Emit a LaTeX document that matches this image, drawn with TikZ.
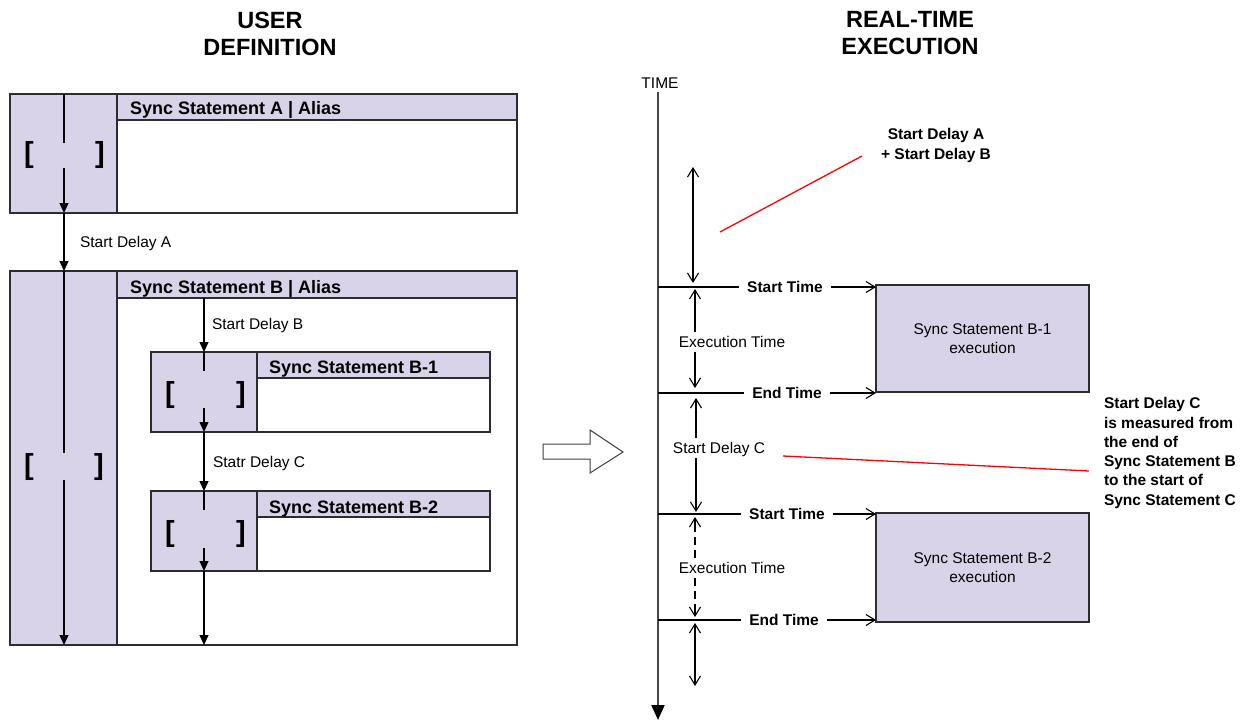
\documentclass[tikz,border=0pt]{standalone}
\usepackage{fontspec}
\setmainfont{Liberation Sans}
\setsansfont{Liberation Sans}
\usetikzlibrary{arrows.meta}
\definecolor{lav}{RGB}{217,211,233}
\definecolor{bord}{RGB}{45,45,45}
\definecolor{tl}{RGB}{70,70,70}
\begin{document}
\begin{tikzpicture}[x=1pt,y=-1pt,
  every node/.style={inner sep=0pt, outer sep=0pt},
  frame/.style={draw=bord, line width=1.5pt, fill=white, anchor=north west},
  colbox/.style={draw=bord, line width=1.5pt, fill=lav, anchor=north west},
  reg/.style={font=\fontsize{15.5}{18.5}\selectfont},
  bld/.style={font=\fontsize{15.5}{19.3}\selectfont\bfseries},
  capht/.style={text height=11.1pt, text depth=0pt},
  hdrtxt/.style={font=\fontsize{18}{21}\selectfont\bfseries, anchor=west, text height=12.9pt, text depth=0pt},
  brk/.style={font=\fontsize{29}{30}\selectfont\bfseries},
  title/.style={font=\fontsize{23.5}{27}\selectfont\bfseries, align=center},
  gapnode/.style={minimum width=1pt},
  ln/.style={line width=1.3pt},
  larr/.style={line width=1.3pt, -{Triangle[length=10pt,width=9pt]}},
  rarr/.style={line width=1.1pt, -{Straight Barb[length=9pt,width=11pt]}},
  tick/.style={line width=1.1pt},
  lbl/.style={bld, capht, inner xsep=8pt},
  mid/.style={reg, capht, fill=white, inner xsep=1pt, inner ysep=4.5pt},
  exec/.style={draw=bord, line width=1.3pt, fill=lav, reg, align=center},
  note/.style={bld, align=left},
  redln/.style={draw=red, line width=1.3pt}
]
\useasboundingbox (0,0) rectangle (1251,721);

% ---------- titles ----------
\node[title] (t1) at (270,33.5) {USER\\DEFINITION};
\node[title] (t2) at (910,33.5) {REAL-TIME\\EXECUTION};

% ---------- Sync Statement A ----------
\node[frame, minimum width=507pt, minimum height=119pt] (Aout) at (10,94) {};
\node[colbox, minimum width=107pt, minimum height=119pt] (Acol) at (10,94) {};
\node[colbox, minimum width=400pt, minimum height=26pt] (Ahdr) at (117,94) {};
\node[hdrtxt] (Atxt) at (130,108) {Sync Statement A | Alias};
\node[brk] (Abl) at (29,155) {[};
\node[brk] (Abr) at (100,155) {]};
\node[gapnode, minimum height=25pt] (Agap) at (64,155.5) {};

% ---------- Sync Statement B ----------
\node[frame, minimum width=507pt, minimum height=374pt] (Bout) at (10,271) {};
\node[colbox, minimum width=107pt, minimum height=374pt] (Bcol) at (10,271) {};
\node[colbox, minimum width=400pt, minimum height=27pt] (Bhdr) at (117,271) {};
\node[hdrtxt] (Btxt) at (130,287) {Sync Statement B | Alias};
\node[brk] (Bbl) at (29,467) {[};
\node[brk] (Bbr) at (99,467) {]};
\node[gapnode, minimum height=27pt] (Bgap) at (64,466.5) {};

% ---------- Sync Statement B-1 ----------
\node[frame, minimum width=339pt, minimum height=80pt] (B1out) at (151,352) {};
\node[colbox, minimum width=106pt, minimum height=80pt] (B1col) at (151,352) {};
\node[colbox, minimum width=233pt, minimum height=26pt] (B1hdr) at (257,352) {};
\node[hdrtxt] (B1txt) at (269,367) {Sync Statement B-1};
\node[brk] (B1bl) at (170,395) {[};
\node[brk] (B1br) at (241,395) {]};
\node[gapnode, minimum height=37pt] (B1gap) at (204,389.5) {};

% ---------- Sync Statement B-2 ----------
\node[frame, minimum width=339pt, minimum height=80pt] (B2out) at (151,491) {};
\node[colbox, minimum width=106pt, minimum height=80pt] (B2col) at (151,491) {};
\node[colbox, minimum width=233pt, minimum height=26pt] (B2hdr) at (257,491) {};
\node[hdrtxt] (B2txt) at (269,507) {Sync Statement B-2};
\node[brk] (B2bl) at (170,534) {[};
\node[brk] (B2br) at (241,534) {]};
\node[gapnode, minimum height=38pt] (B2gap) at (204,529) {};

% ---------- left flow lines ----------
\draw[ln] (Acol.north -| Agap) -- (Agap.north);
\draw[larr] (Agap.south) -- (Acol.south -| Agap);
\draw[larr] (Aout.south -| Agap) -- (Bout.north -| Agap);
\draw[ln] (Bcol.north -| Bgap) -- (Bgap.north);
\draw[larr] (Bgap.south) -- (Bcol.south -| Bgap);
\draw[larr] (Bhdr.south -| B1gap) -- (B1out.north -| B1gap);
\draw[ln] (B1col.north -| B1gap) -- (B1gap.north);
\draw[larr] (B1gap.south) -- (B1col.south -| B1gap);
\draw[larr] (B1out.south -| B1gap) -- (B2out.north -| B1gap);
\draw[ln] (B2col.north -| B2gap) -- (B2gap.north);
\draw[larr] (B2gap.south) -- (B2col.south -| B2gap);
\draw[larr] (B2out.south -| B2gap) -- (Bout.south -| B2gap);

\node[reg, capht, anchor=west] (dA) at (80,242) {Start Delay A};
\node[reg, capht, anchor=west] (dB) at (212,324) {Start Delay B};
\node[reg, capht, anchor=west] (dC) at (213,462) {Statr Delay C};

% ---------- big hollow arrow ----------
\draw[draw=black!75, line width=1pt, fill=white]
  (543,444) -- (590,444) -- (590,430) -- (623,452) -- (590,473) -- (590,459) -- (543,459) -- cycle;

% ---------- time line ----------
\node[reg, capht] (time) at (660,83) {TIME};
\coordinate (tl0) at (658,92);
\coordinate (tl1) at (658,720);
\draw[draw=tl, line width=2pt, -{Triangle[length=15pt,width=13pt,color=black]}] (tl0) -- (tl1);

% execution boxes
\node[exec, minimum width=213pt, minimum height=107pt] (B1x) at (982.5,338.5) {Sync Statement B-1\\execution};
\node[exec, minimum width=213pt, minimum height=109pt] (B2x) at (982.5,567.5) {Sync Statement B-2\\execution};

% ticks and labels
\coordinate (s1) at (658,287);
\coordinate (e1) at (658,393);
\coordinate (s2) at (658,514);
\coordinate (e2) at (658,620);
\node[lbl] (st1) at (785,287) {Start Time};
\node[lbl] (et1) at (787,393) {End Time};
\node[lbl] (st2) at (787,514) {Start Time};
\node[lbl] (et2) at (784,620) {End Time};
\draw[tick] (s1) -- (st1.west);
\draw[tick] (e1) -- (et1.west);
\draw[tick] (s2) -- (st2.west);
\draw[tick] (e2) -- (et2.west);
\draw[rarr] (st1.east) -- (st1.east -| B1x.west);
\draw[rarr] (et1.east) -- (et1.east -| B1x.west);
\draw[rarr] (st2.east) -- (st2.east -| B2x.west);
\draw[rarr] (et2.east) -- (et2.east -| B2x.west);

% duration arrows
\coordinate (d1a) at (693,167);
\coordinate (d1b) at (693,283);
\draw[rarr, {Straight Barb[length=9pt,width=11pt]}-{Straight Barb[length=9pt,width=11pt]}] (d1a) -- (d1b);

\coordinate (d2a) at (695,289);
\coordinate (d2b) at (695,388);
\node[mid] (ex1) at (732,342) {Execution Time};
\draw[rarr] (ex1.north -| d2a) -- (d2a);
\draw[rarr] (ex1.south -| d2b) -- (d2b);

\coordinate (d3a) at (696,398);
\coordinate (d3b) at (696,512);
\node[mid] (sdc) at (719,448) {Start Delay C};
\draw[rarr] (sdc.north -| d3a) -- (d3a);
\draw[rarr] (sdc.south -| d3b) -- (d3b);

\coordinate (d4a) at (695,517);
\coordinate (d4b) at (695,617);
\coordinate (d4c) at (695,526);
\coordinate (d4d) at (695,608);
\node[mid] (ex2) at (732,568) {Execution Time};
\draw[line width=2.6pt, dash pattern=on 8pt off 5pt] (ex2.north -| d4a) -- (d4c);
\draw[line width=2.6pt, dash pattern=on 8pt off 5pt] (ex2.south -| d4b) -- (d4d);
\draw[rarr] (d4c) -- (d4a);
\draw[rarr] (d4d) -- (d4b);

\coordinate (d5a) at (695,623);
\coordinate (d5b) at (695,686);
\draw[rarr, {Straight Barb[length=9pt,width=11pt]}-{Straight Barb[length=9pt,width=11pt]}] (d5a) -- (d5b);

% notes and red leader lines
\node[note, align=center] (nAB) at (936,145.5) {Start Delay A\\+ Start Delay B};
\node[note, anchor=west] (nC) at (1104,453) {Start Delay C\\is measured from\\the end of\\Sync Statement B\\to the start of\\Sync Statement C};
\coordinate (r1a) at (720,232);
\coordinate (r1b) at (862,156);
\coordinate (r2a) at (783,456);
\coordinate (r2b) at (1089,471);
\draw[redln] (r1a) -- (r1b);
\draw[redln] (r2a) -- (r2b);
\end{tikzpicture}
\end{document}
